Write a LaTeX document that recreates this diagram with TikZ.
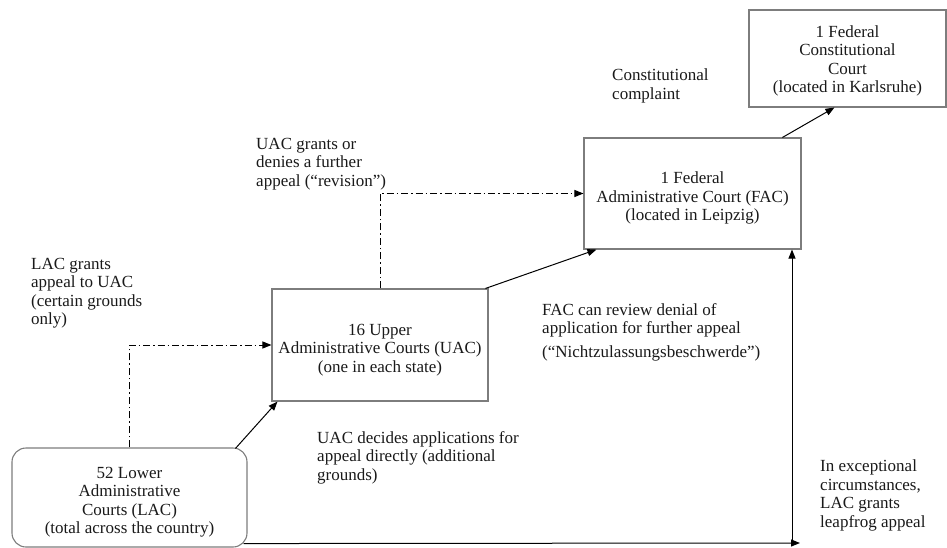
\documentclass[tikz,border=0pt]{standalone}
\usepackage{fontspec}
\setmainfont{Liberation Serif}
\usetikzlibrary{arrows.meta,calc}
\definecolor{boxgray}{RGB}{125,125,125}
\definecolor{ink}{RGB}{25,25,25}
\newcommand{\lowstrut}{\rule{0pt}{21pt}}
\begin{document}
\begin{tikzpicture}[x=1pt,y=-1pt,
  court/.style={draw=boxgray, line width=1.1pt, align=center, inner sep=0pt, text=ink,
                font=\fontsize{17}{18.5}\selectfont},
  lbl/.style={anchor=north west, align=left, inner sep=0pt, text=ink,
              font=\fontsize{17}{18.5}\selectfont, execute at begin node=\strut},
  conn/.style={draw=black, line width=1pt, -{Triangle[length=9pt,width=7pt]}},
  dd/.style={conn, dash pattern=on 7pt off 3pt on 1.5pt off 3pt},
]
\useasboundingbox (0,0) rectangle (947,548);

% courts
\node[court, rounded corners=14pt, minimum width=235pt, minimum height=99pt] (LAC) at (129.5,497.5)
  {\lowstrut 52 Lower\\Administrative\\Courts (LAC)\\(total across the country)};
\node[court, minimum width=216pt, minimum height=112pt] (UAC) at (380,345)
  {\lowstrut 16 Upper\\Administrative Courts (UAC)\\(one in each state)};
\node[court, minimum width=217pt, minimum height=111pt] (FAC) at (692.5,193.5)
  {\lowstrut 1 Federal\\Administrative Court (FAC)\\(located in Leipzig)};
\node[court, minimum width=197pt, minimum height=97pt] (FCC) at (847.5,58.5)
  {\rule{0pt}{17pt}1 Federal\\Constitutional\\Court\\(located in Karlsruhe)};

% labels
\node[lbl] (l1) at (31,258) {LAC grants\\appeal to UAC\\(certain grounds\\only)};
\node[lbl] (l2) at (256,138) {UAC grants or\\denies a further\\appeal (“revision”)};
\node[lbl] (l3) at (612,69) {Constitutional\\complaint};
\node[lbl] (l4) at (542,303) {FAC can review denial of\\application for further appeal\\[5.5pt](“Nichtzulassungsbeschwerde”)};
\node[lbl] (l5) at (317,431) {UAC decides applications for\\appeal directly (additional\\grounds)};
\node[lbl] (l6) at (820,460) {In exceptional\\circumstances,\\LAC grants\\leapfrog appeal};

% connectors
\draw[conn] ($(LAC.north west)+(224,1)$) -- ($(UAC.south west)+(6,0)$);
\draw[conn] ($(UAC.north west)+(214,0)$) -- ($(FAC.south west)+(13,0)$);
\draw[conn] ($(FAC.north west)+(199,0)$) -- ($(FCC.south west)+(86,0)$);
\draw[dd] (LAC.north) |- (UAC.west);
\draw[dd] (UAC.north) |- (FAC.west);

\coordinate (leapend) at (800,543);
\coordinate (vbase) at (792,543);
\draw[conn] ($(LAC.south east)+(-4,-4)$) -- (leapend);
\draw[conn] (vbase) -- (vbase |- FAC.south);
\end{tikzpicture}
\end{document}
